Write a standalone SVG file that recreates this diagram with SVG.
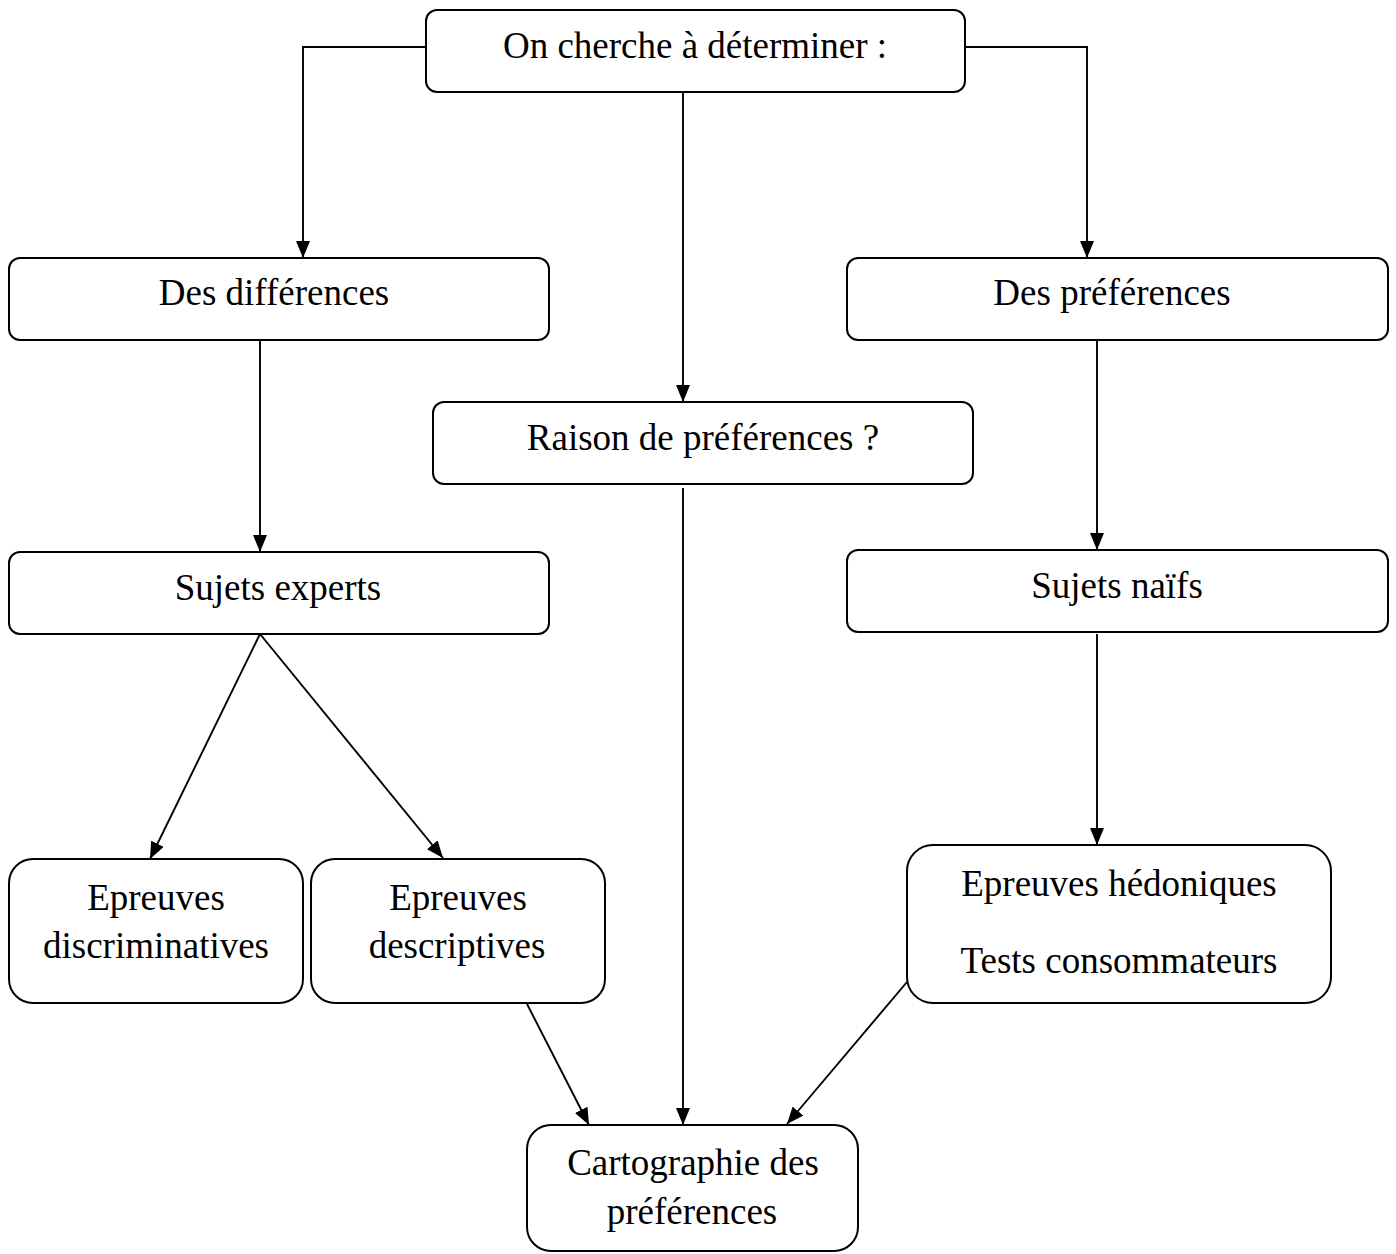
<svg xmlns="http://www.w3.org/2000/svg" width="1396" height="1254" viewBox="0 0 1396 1254">
<style>
.box{fill:#fff;stroke:#000;stroke-width:2}
.t{font-family:"Liberation Serif","Times New Roman",serif;font-size:37px;fill:#000;text-anchor:middle}
.c{fill:none;stroke:#000;stroke-width:1.9}
</style>
<defs>
<marker id="ah" viewBox="0 0 17 14" refX="17" refY="7" markerWidth="17" markerHeight="14" markerUnits="userSpaceOnUse" orient="auto">
<path d="M0,0 L17,7 L0,14 Z" fill="#000"/>
</marker>
</defs>
<rect width="1396" height="1254" fill="#fff"/>
<g id="connectors">
<polyline class="c" points="426,47 303,47 303,258" marker-end="url(#ah)"/>
<polyline class="c" points="965,47 1087,47 1087,258" marker-end="url(#ah)"/>
<line class="c" x1="683" y1="92" x2="683" y2="402" marker-end="url(#ah)"/>
<line class="c" x1="260" y1="340" x2="260" y2="552" marker-end="url(#ah)"/>
<line class="c" x1="1097" y1="340" x2="1097" y2="550" marker-end="url(#ah)"/>
<line class="c" x1="260" y1="634" x2="150" y2="859" marker-end="url(#ah)"/>
<line class="c" x1="260" y1="634" x2="443" y2="858" marker-end="url(#ah)"/>
<line class="c" x1="683" y1="488" x2="683" y2="1125" marker-end="url(#ah)"/>
<line class="c" x1="1097" y1="634" x2="1097" y2="845" marker-end="url(#ah)"/>
<line class="c" x1="527" y1="1004" x2="589" y2="1125" marker-end="url(#ah)"/>
<line class="c" x1="907" y1="982" x2="787" y2="1124" marker-end="url(#ah)"/>
</g>
<g id="n-top"><rect class="box" x="426" y="10" width="539" height="82" rx="11"/><text class="t" x="695" y="58">On cherche à déterminer :</text></g>
<g id="n-diff"><rect class="box" x="9" y="258" width="540" height="82" rx="11"/><text class="t" x="274" y="305">Des différences</text></g>
<g id="n-pref"><rect class="box" x="847" y="258" width="541" height="82" rx="11"/><text class="t" x="1112" y="305">Des préférences</text></g>
<g id="n-raison"><rect class="box" x="433" y="402" width="540" height="82" rx="11"/><text class="t" x="703" y="450">Raison de préférences ?</text></g>
<g id="n-experts"><rect class="box" x="9" y="552" width="540" height="82" rx="11"/><text class="t" x="278" y="600">Sujets experts</text></g>
<g id="n-naifs"><rect class="box" x="847" y="550" width="541" height="82" rx="11"/><text class="t" x="1117" y="598">Sujets naïfs</text></g>
<g id="n-discr"><rect class="box" x="9" y="859" width="294" height="144" rx="24"/><text class="t" x="156" y="910">Epreuves</text><text class="t" x="156" y="958">discriminatives</text></g>
<g id="n-descr"><rect class="box" x="311" y="859" width="294" height="144" rx="24"/><text class="t" x="458" y="910">Epreuves</text><text class="t" x="457" y="958">descriptives</text></g>
<g id="n-hedo"><rect class="box" x="907" y="845" width="424" height="158" rx="26"/><text class="t" x="1119" y="896">Epreuves hédoniques</text><text class="t" x="1119" y="973">Tests consommateurs</text></g>
<g id="n-carto"><rect class="box" x="527" y="1125" width="331" height="126" rx="24"/><text class="t" x="693" y="1175">Cartographie des</text><text class="t" x="692" y="1224">préférences</text></g>
</svg>
